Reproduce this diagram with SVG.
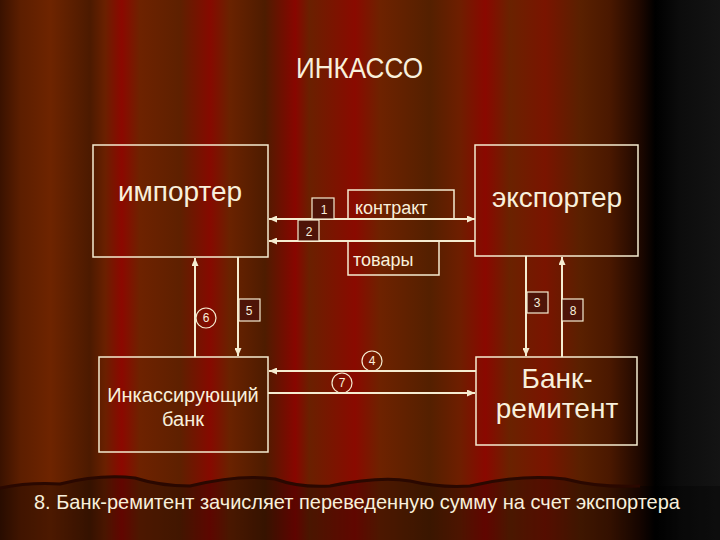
<svg xmlns="http://www.w3.org/2000/svg" width="720" height="540" viewBox="0 0 720 540">
<defs>
<linearGradient id="bg" x1="0" y1="0" x2="720" y2="0" gradientUnits="userSpaceOnUse">
<stop offset="0" stop-color="#3a1200"/>
<stop offset="0.028" stop-color="#5c1e00"/>
<stop offset="0.07" stop-color="#6e2400"/>
<stop offset="0.125" stop-color="#4c1a00"/>
<stop offset="0.146" stop-color="#6a2000"/>
<stop offset="0.169" stop-color="#8c0800"/>
<stop offset="0.194" stop-color="#6e2200"/>
<stop offset="0.25" stop-color="#5e2000"/>
<stop offset="0.292" stop-color="#860a00"/>
<stop offset="0.319" stop-color="#6a2200"/>
<stop offset="0.368" stop-color="#4e1c00"/>
<stop offset="0.41" stop-color="#880600"/>
<stop offset="0.43" stop-color="#6a2000"/>
<stop offset="0.493" stop-color="#8a0a00"/>
<stop offset="0.528" stop-color="#6e2200"/>
<stop offset="0.597" stop-color="#542000"/>
<stop offset="0.639" stop-color="#6e1e00"/>
<stop offset="0.674" stop-color="#8a0800"/>
<stop offset="0.708" stop-color="#6a2200"/>
<stop offset="0.757" stop-color="#7a1400"/>
<stop offset="0.806" stop-color="#5a2000"/>
<stop offset="0.847" stop-color="#4a1800"/>
<stop offset="0.889" stop-color="#1e0800"/>
<stop offset="0.91" stop-color="#000000"/>
<stop offset="0.944" stop-color="#0c0c0c"/>
<stop offset="1" stop-color="#141414"/>
</linearGradient>
<marker id="ah" viewBox="0 0 8 7" refX="8" refY="3.5" markerWidth="8" markerHeight="7" markerUnits="userSpaceOnUse" orient="auto-start-reverse">
<path d="M0,0 L8,3.5 L0,7 z" fill="#f5ecd0"/>
</marker>
<style>
.box{fill:none;stroke:#f5ecd0;stroke-width:1.5}
.tag{fill:#4e1408;stroke:#f5ecd0;stroke-width:1.2}
.circ{fill:none;stroke:#f5ecd0;stroke-width:1.2}
.ln{fill:none;stroke:#f5ecd0;stroke-width:2}
.t{font-family:"Liberation Sans",Arial,sans-serif;fill:#f8f0dc}
.num{font-family:"Liberation Sans",Arial,sans-serif;fill:#f8f0dc;font-size:12px;text-anchor:middle}
.nar{font-family:"Liberation Sans Narrow","Liberation Sans",Arial,sans-serif;fill:#f8f0dc}
</style>
</defs>
<rect x="0" y="0" width="720" height="540" fill="url(#bg)"/>
<path d="M0,488 Q30,482 60,484 Q100,474 135,478 Q160,486 190,486 Q240,474 275,479 Q300,488 330,486 Q380,476 410,481 Q440,488 470,486 Q520,474 565,479 Q600,488 640,486 L720,486 L720,540 L0,540 z" fill="#000" fill-opacity="0.3"/>
<path d="M0,488 Q30,482 60,484 Q100,474 135,478 Q160,486 190,486 Q240,474 275,479 Q300,488 330,486 Q380,476 410,481 Q440,488 470,486 Q520,474 565,479 Q600,488 640,486" fill="none" stroke="#2a0800" stroke-width="3"/>

<text class="nar" x="296" y="78" font-size="29" textLength="127" lengthAdjust="spacingAndGlyphs">ИНКАССО</text>

<g id="importer">
<rect class="box" x="93" y="145" width="175" height="112"/>
<text class="t" x="180" y="201" font-size="28" text-anchor="middle">импортер</text>
</g>
<g id="exporter">
<rect class="box" x="475" y="145" width="163" height="111"/>
<text class="t" x="557" y="207" font-size="28" text-anchor="middle">экспортер</text>
</g>
<g id="collecting-bank">
<rect class="box" x="99" y="357" width="169" height="95"/>
<text class="t" x="183" y="402" font-size="20" text-anchor="middle">Инкассирующий</text>
<text class="t" x="183" y="426" font-size="20" text-anchor="middle">банк</text>
</g>
<g id="remitting-bank">
<rect class="box" x="476" y="357" width="161" height="88"/>
<text class="t" x="557" y="388" font-size="28" text-anchor="middle">Банк-</text>
<text class="t" x="557" y="418" font-size="28" text-anchor="middle">ремитент</text>
</g>
<g id="contract">
<rect class="box" x="348" y="190" width="106" height="29"/>
<text class="t" x="355" y="214" font-size="18">контракт</text>
</g>
<g id="goods">
<rect class="box" x="348" y="241" width="91" height="34"/>
<text class="t" x="353" y="266" font-size="18">товары</text>
</g>

<g id="connectors">
<line class="ln" x1="269" y1="219" x2="475" y2="219" marker-start="url(#ah)" marker-end="url(#ah)"/>
<line class="ln" x1="475" y1="241" x2="269" y2="241" marker-end="url(#ah)"/>
<line class="ln" x1="195" y1="357" x2="195" y2="258" marker-end="url(#ah)"/>
<line class="ln" x1="238" y1="257" x2="238" y2="356" marker-end="url(#ah)"/>
<line class="ln" x1="526" y1="256" x2="526" y2="356" marker-end="url(#ah)"/>
<line class="ln" x1="562" y1="357" x2="562" y2="257" marker-end="url(#ah)"/>
<line class="ln" x1="476" y1="371" x2="269" y2="371" marker-end="url(#ah)"/>
<line class="ln" x1="268" y1="393" x2="475" y2="393" marker-end="url(#ah)"/>
</g>

<g id="labels">
<rect class="tag" x="312" y="198" width="22" height="21"/>
<text class="num" x="324" y="214">1</text>
<rect class="tag" x="298" y="220" width="21" height="21"/>
<text class="num" x="309" y="236">2</text>
<rect class="tag" x="527" y="292" width="21" height="21"/>
<text class="num" x="537" y="307">3</text>
<rect class="tag" x="239" y="299" width="21" height="22"/>
<text class="num" x="249" y="315">5</text>
<rect class="tag" x="562" y="299" width="21" height="22"/>
<text class="num" x="573" y="315">8</text>
<circle class="circ" cx="206" cy="318" r="10"/>
<text class="num" x="206" y="322">6</text>
<circle class="circ" cx="372" cy="361" r="10"/>
<text class="num" x="372" y="365">4</text>
<circle class="circ" cx="342" cy="383" r="10"/>
<text class="num" x="342" y="387">7</text>
</g>

<text class="nar" x="34" y="509" font-size="21" textLength="646" lengthAdjust="spacingAndGlyphs">8. Банк-ремитент зачисляет переведенную сумму на счет экспортера</text>
</svg>
